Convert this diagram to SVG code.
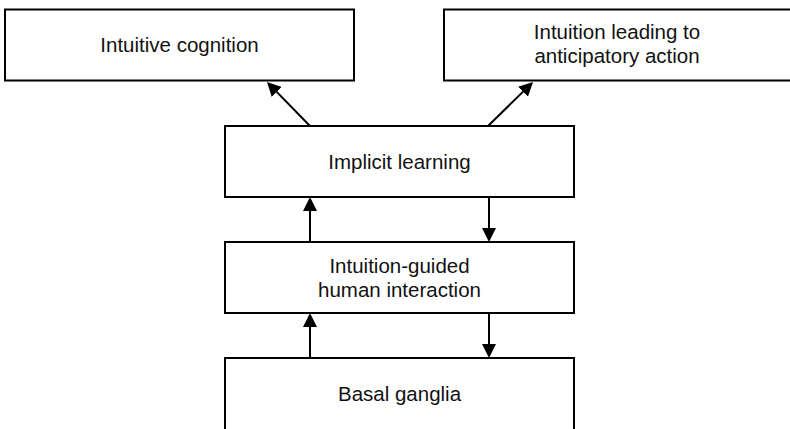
<svg xmlns="http://www.w3.org/2000/svg" width="790" height="429" viewBox="0 0 790 429">
<style>
.box{fill:#fff;stroke:#000;stroke-width:2}
.lbl{font-family:"Liberation Sans",Arial,sans-serif;font-size:20.5px;fill:#111;text-anchor:middle}
.conn{stroke:#000;stroke-width:2;fill:none;marker-end:url(#ah)}
</style>
<defs>
<marker id="ah" markerUnits="userSpaceOnUse" markerWidth="14" markerHeight="14" refX="12" refY="7" orient="auto">
<path d="M0,0 L14,7 L0,14 z" fill="#000"/>
</marker>
</defs>
<rect width="790" height="429" fill="#fff"/>
<g id="intuitive-cognition">
<rect class="box" x="5" y="9.5" width="349" height="71"/>
<text class="lbl" x="179.5" y="52">Intuitive cognition</text>
</g>
<g id="anticipatory-action">
<rect class="box" x="444" y="9.5" width="349" height="71"/>
<text class="lbl" x="617" y="39">Intuition leading to</text>
<text class="lbl" x="617" y="63">anticipatory action</text>
</g>
<g id="implicit-learning">
<rect class="box" x="225" y="126" width="349" height="71"/>
<text class="lbl" x="399.5" y="169">Implicit learning</text>
</g>
<g id="intuition-guided">
<rect class="box" x="225" y="242" width="349" height="71"/>
<text class="lbl" x="399.5" y="273">Intuition-guided</text>
<text class="lbl" x="399.5" y="297">human interaction</text>
</g>
<g id="basal-ganglia">
<rect class="box" x="225" y="358" width="349" height="73"/>
<text class="lbl" x="399.5" y="401">Basal ganglia</text>
</g>
<g id="connectors">
<line class="conn" x1="310" y1="126" x2="268.4" y2="83.4"/>
<line class="conn" x1="488" y1="126" x2="531.6" y2="83.4"/>
<line class="conn" x1="310" y1="242" x2="310" y2="199"/>
<line class="conn" x1="489" y1="197" x2="489" y2="240"/>
<line class="conn" x1="310" y1="358" x2="310" y2="315"/>
<line class="conn" x1="489" y1="313" x2="489" y2="356"/>
</g>
</svg>
